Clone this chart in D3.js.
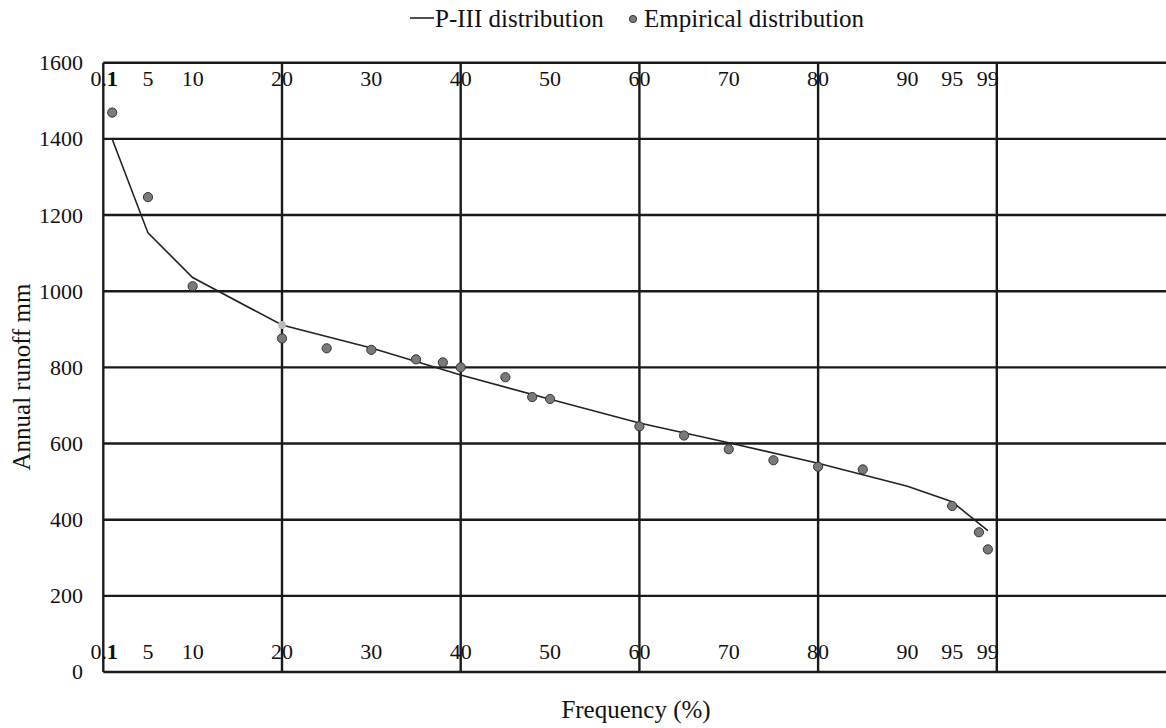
<!DOCTYPE html>
<html lang="en">
  <head>
    <meta charset="UTF-8" />
    <title>P-III frequency curve of annual runoff</title>
    <script src="https://cdnjs.cloudflare.com/ajax/libs/d3/7.8.5/d3.min.js"></script>
    <style>
      body {
        margin: 0;
        background: #fff;
      }
      svg text {
        font-family: "Liberation Serif", "Times New Roman", serif;
        fill: #111;
      }
    </style>
  </head>
  <body>
    <div id="chart"></div>

    <script>
      // Empirical points (frequency %, annual runoff mm)
      const empFreq = [1, 5, 10, 20, 25, 30, 35, 38, 40, 45, 48, 50, 60, 65, 70, 75, 80, 85, 95, 98, 99];
      const empRunoff = [1469, 1247, 1013, 876, 850, 846, 821, 813, 800, 774, 722, 717, 645, 621, 585, 556, 539, 532, 436, 367, 322];

      // Fitted P-III curve
      const p3Freq = [1, 5, 10, 20, 30, 40, 50, 60, 70, 80, 90, 95, 99];
      const p3Runoff = [1399, 1153, 1036, 911, 851, 780, 716, 654, 602, 548, 488, 447, 371];

      // Frequency labels written inside the plot, top and bottom
      const freqLabels = ["0.1", "1", "5", "10", "20", "30", "40", "50", "60", "70", "80", "90", "95", "99"];
      const freqLabelPos = [0.1, 1, 5, 10, 20, 30, 40, 50, 60, 70, 80, 90, 95, 99];

      const yTicks = [0, 200, 400, 600, 800, 1000, 1200, 1400, 1600];
      const xGrid = [20, 40, 60, 80, 100, 120];

      const width = 1166;
      const height = 728;
      const margin = { left: 103.3, top: 62.7, bottom: 56 };

      const svg = d3
        .select("#chart")
        .append("svg")
        .attr("width", width)
        .attr("height", height);

      const x = d3
        .scaleLinear()
        .domain([0, 120])
        .range([margin.left, margin.left + 120 * 8.935]);

      const y = d3
        .scaleLinear()
        .domain([0, 1600])
        .range([height - margin.bottom, margin.top]);

      // horizontal grid
      svg
        .append("g")
        .selectAll("line")
        .data(yTicks)
        .join("line")
        .attr("x1", x(0))
        .attr("x2", width)
        .attr("y1", (d) => y(d))
        .attr("y2", (d) => y(d))
        .attr("stroke", "#1a1a1a")
        .attr("stroke-width", 2.4);

      // vertical grid + left axis
      svg
        .append("g")
        .selectAll("line")
        .data([0].concat(xGrid))
        .join("line")
        .attr("x1", (d) => x(d))
        .attr("x2", (d) => x(d))
        .attr("y1", y(1600))
        .attr("y2", y(0))
        .attr("stroke", "#1a1a1a")
        .attr("stroke-width", 2.4);

      // y tick labels
      svg
        .append("g")
        .selectAll("text")
        .data(yTicks)
        .join("text")
        .attr("x", 83)
        .attr("y", (d) => y(d))
        .attr("dy", "0.34em")
        .attr("text-anchor", "end")
        .attr("font-size", "22px")
        .text((d) => d);

      // frequency labels, top and bottom rows
      const rows = [86, 659];
      rows.forEach((ry) => {
        svg
          .append("g")
          .selectAll("text")
          .data(freqLabels)
          .join("text")
          .attr("x", (d, i) => x(freqLabelPos[i]))
          .attr("y", ry)
          .attr("text-anchor", "middle")
          .attr("font-size", "22px")
          .attr("font-weight", (d) => (d === "1" ? "bold" : "normal"))
          .text((d) => d);
      });

      // P-III line
      const line = d3
        .line()
        .x((d, i) => x(p3Freq[i]))
        .y((d) => y(d));

      svg
        .append("path")
        .datum(p3Runoff)
        .attr("fill", "none")
        .attr("stroke", "#222")
        .attr("stroke-width", 1.6)
        .attr("d", line);

      // light marker where the curve meets the 20% line
      const hi = p3Freq.indexOf(20);
      svg
        .append("circle")
        .attr("cx", x(p3Freq[hi]))
        .attr("cy", y(p3Runoff[hi]))
        .attr("r", 4)
        .attr("fill", "#bbb");

      // empirical points
      svg
        .append("g")
        .selectAll("circle")
        .data(empRunoff)
        .join("circle")
        .attr("cx", (d, i) => x(empFreq[i]))
        .attr("cy", (d) => y(d))
        .attr("r", 4.6)
        .attr("fill", "#7a7a7a")
        .attr("stroke", "#333")
        .attr("stroke-width", 1);

      // axis titles
      svg
        .append("text")
        .attr("transform", `translate(30,377) rotate(-90)`)
        .attr("text-anchor", "middle")
        .attr("font-size", "25px")
        .text("Annual runoff mm");

      svg
        .append("text")
        .attr("x", 636)
        .attr("y", 718)
        .attr("text-anchor", "middle")
        .attr("font-size", "25px")
        .text("Frequency (%)");

      // legend
      const lg = svg.append("g");
      lg.append("line")
        .attr("x1", 410)
        .attr("x2", 434)
        .attr("y1", 18)
        .attr("y2", 18)
        .attr("stroke", "#222")
        .attr("stroke-width", 1.6);
      lg.append("text")
        .attr("x", 435)
        .attr("y", 27)
        .attr("font-size", "25px")
        .text("P-III distribution");
      lg.append("circle")
        .attr("cx", 633)
        .attr("cy", 19)
        .attr("r", 3.6)
        .attr("fill", "#7a7a7a")
        .attr("stroke", "#333")
        .attr("stroke-width", 1);
      lg.append("text")
        .attr("x", 644)
        .attr("y", 27)
        .attr("font-size", "25px")
        .text("Empirical distribution");
    </script>
  </body>
</html>
